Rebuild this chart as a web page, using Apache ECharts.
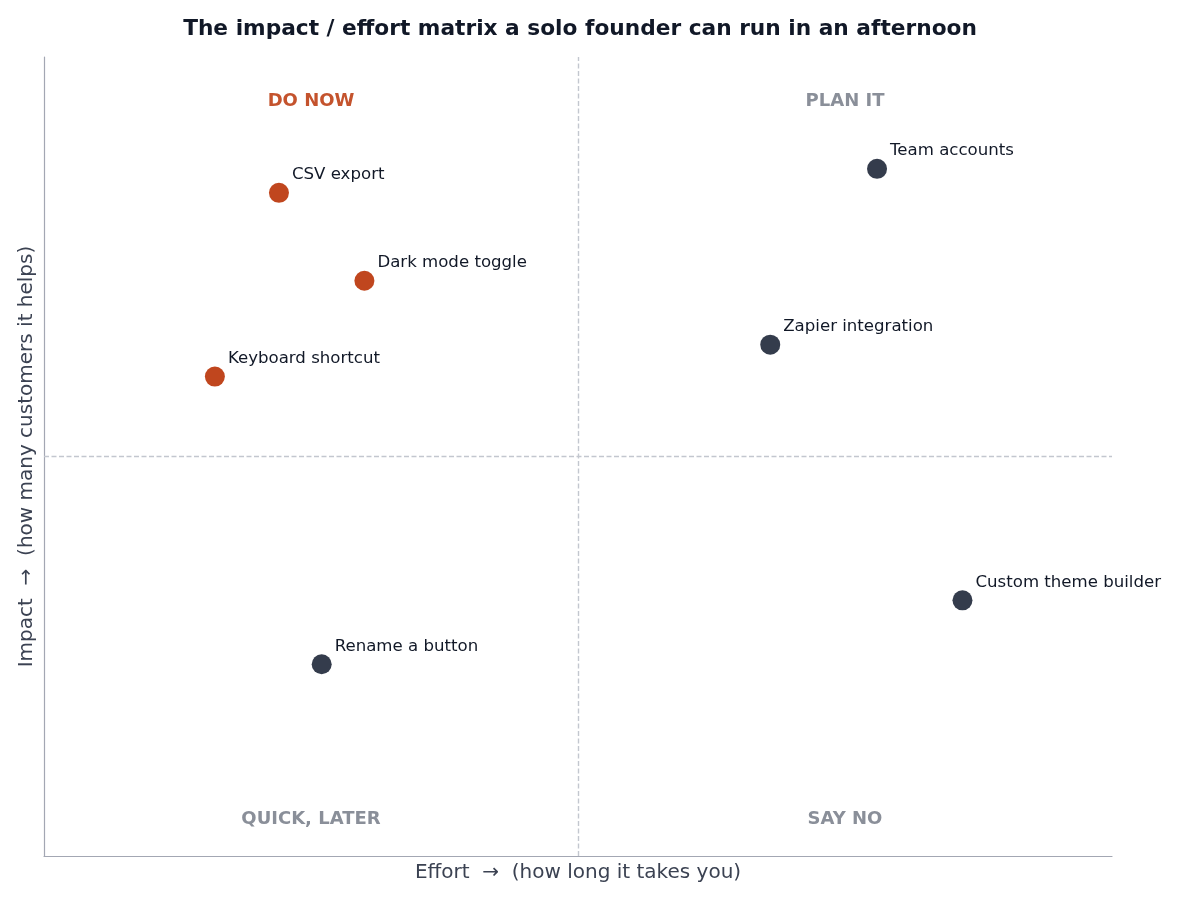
<!DOCTYPE html>
<html>
<head>
<meta charset="utf-8">
<title>Impact / effort matrix</title>
<script src="https://cdn.jsdelivr.net/npm/echarts@6/dist/echarts.min.js"></script>
<style>
  html, body { margin: 0; padding: 0; background: #fff; }
  #chart { width: 1200px; height: 900px; }
</style>
</head>
<body>
<div id="chart"></div>
<script>
  'use strict';

  /****** data *****/
  var doNowItems = ['CSV export', 'Dark mode toggle', 'Keyboard shortcut'];
  var doNowEffort = [2.2, 3.0, 1.6];
  var doNowImpact = [8.3, 7.2, 6.0];

  var otherItems = ['Team accounts', 'Zapier integration', 'Custom theme builder', 'Rename a button'];
  var otherEffort = [7.8, 6.8, 8.6, 2.6];
  var otherImpact = [8.6, 6.4, 3.2, 2.4];

  var quadrantNames = ['DO NOW', 'PLAN IT', 'QUICK, LATER', 'SAY NO'];
  var quadrantX = [2.5, 7.5, 2.5, 7.5];
  var quadrantY = [9.45, 9.45, 0.46, 0.46];

  var midEffort = 5;
  var midImpact = 5;

  function pairs(names, xs, ys) {
    return names.map(function(n, i) { return { name: n, value: [xs[i], ys[i]] }; });
  }

  var pointLabel = {
    show: true,
    position: 'right',
    distance: 3,
    offset: [0, -18],
    formatter: '{b}',
    fontSize: 16.6,
    color: '#111827',
    fontFamily: 'DejaVu Sans'
  };

  var quadData = quadrantNames.map(function(n, i) {
    return {
      name: n,
      value: [quadrantX[i], quadrantY[i]],
      label: { color: i === 0 ? '#c4532d' : '#8a8f99' }
    };
  });

  var option = {
    animation: false,
    title: {
      text: 'The impact / effort matrix a solo founder can run in an afternoon',
      left: 575,
      top: 13,
      textAlign: 'center',
      textStyle: {
        fontSize: 21.7,
        fontWeight: 'bold',
        color: '#111827',
        fontFamily: 'DejaVu Sans'
      }
    },
    grid: {
      top: 57,
      right: 88,
      bottom: 44,
      left: 44
    },
    xAxis: {
      type: 'value',
      min: 0,
      max: 10,
      name: 'Effort  \u2192  (how long it takes you)',
      nameLocation: 'middle',
      nameGap: 7,
      nameTextStyle: { fontSize: 20, color: '#3b4252', fontFamily: 'DejaVu Sans', verticalAlign: 'top' },
      axisLine: { show: true, lineStyle: { color: '#a3a7b3', width: 1.2 } },
      axisTick: { show: false },
      axisLabel: { show: false },
      splitLine: { show: false }
    },
    yAxis: {
      type: 'value',
      min: 0,
      max: 10,
      name: 'Impact  \u2192  (how many customers it helps)',
      nameLocation: 'middle',
      nameGap: 7,
      nameTextStyle: { fontSize: 20, color: '#3b4252', fontFamily: 'DejaVu Sans' },
      axisLine: { show: true, lineStyle: { color: '#a3a7b3', width: 1.2 } },
      axisTick: { show: false },
      axisLabel: { show: false },
      splitLine: { show: false }
    },
    series: [
      {
        name: 'Do now',
        type: 'scatter',
        symbolSize: 20,
        itemStyle: { color: '#c0461e', opacity: 1 },
        label: pointLabel,
        data: pairs(doNowItems, doNowEffort, doNowImpact),
        z: 3,
        markLine: {
          silent: true,
          symbol: 'none',
          label: { show: false },
          lineStyle: { color: '#c3c7cf', type: [5, 2.5], width: 1.4 },
          data: [{ xAxis: midEffort }, { yAxis: midImpact }]
        }
      },
      {
        name: 'Other',
        type: 'scatter',
        symbolSize: 20,
        itemStyle: { color: '#343c4c', opacity: 1 },
        label: pointLabel,
        data: pairs(otherItems, otherEffort, otherImpact),
        z: 3
      },
      {
        name: 'Quadrants',
        type: 'scatter',
        symbolSize: 0,
        silent: true,
        itemStyle: { opacity: 1 },
        label: {
          show: true,
          position: 'inside',
          formatter: '{b}',
          fontSize: 18,
          fontWeight: 'bold',
          fontFamily: 'DejaVu Sans'
        },
        data: quadData
      }
    ]
  };

  var chart = echarts.init(document.getElementById('chart'));
  chart.setOption(option);
</script>
</body>
</html>
